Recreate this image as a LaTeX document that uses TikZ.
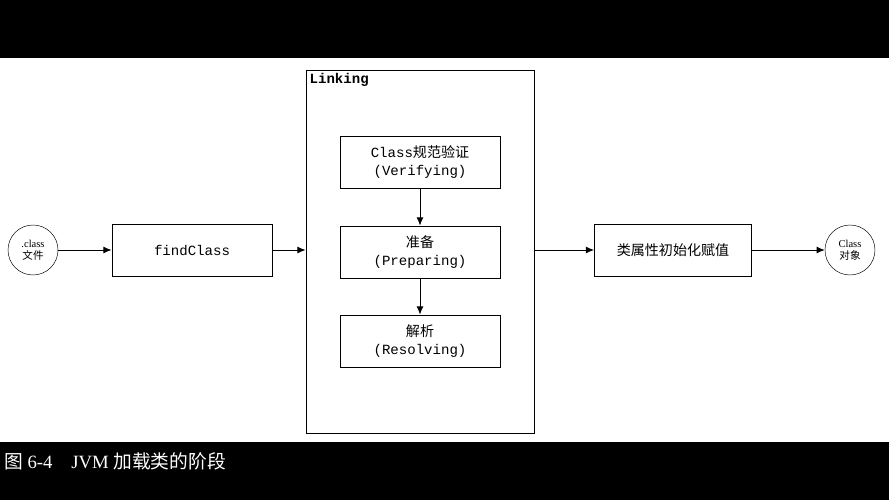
\documentclass[tikz,border=0pt]{standalone}
\usepackage{fontspec}
\setmainfont{Liberation Serif}
\setmonofont{Liberation Mono}
\newfontfamily\cjk{Noto Sans CJK SC}
\usetikzlibrary{arrows.meta,positioning}

\begin{document}
\begin{tikzpicture}[x=0.03cm,y=-0.03cm,
    box/.style={draw,thick,minimum width=160*0.03cm,minimum height=52*0.03cm,
        align=center,font=\ttfamily\fontsize{12}{16}\selectfont},
    ends/.style={draw,circle,minimum size=50*0.03cm,inner sep=0pt,align=center,
        font=\fontsize{9}{10}\selectfont},
    arr/.style={thick,-{Latex[length=7pt,width=6pt]}}]
    % frame and black bars
    \useasboundingbox (0,0) rectangle (889,500);
    \fill[black] (0,0) rectangle (889,58);
    \fill[black] (0,442) rectangle (889,500);
    \node[anchor=west,text=white,font=\fontsize{16}{18}\selectfont] (cap) at (0,461)
        {{\cjk 图} 6-4\quad JVM {\cjk 加载类的阶段}};
    % linking frame
    \node[draw,thick,minimum width=228*0.03cm,minimum height=363*0.03cm] (link) at (420,251.5) {};
    \node[anchor=north west,font=\ttfamily\bfseries\fontsize{12}{14}\selectfont] (linklbl)
        at (link.north west) {Linking};
    % nodes
    \node[ends] (file) at (33,250) {.class\\{\cjk 文件}};
    \node[box] (find) at (192,250) {findClass};
    \node[box] (verify) at (420,162) {Class{\cjk 规范验证}\\(Verifying)};
    \node[box] (prep) at (420,252) {{\cjk 准备}\\(Preparing)};
    \node[box] (resolve) at (420,341) {{\cjk 解析}\\(Resolving)};
    \node[box,font=\cjk\fontsize{12}{16}\selectfont,minimum width=157*0.03cm] (init) at (673,250) {类属性初始化赋值};
    \node[ends] (obj) at (850,250) {Class\\{\cjk 对象}};
    % connectors
    \draw[arr] (file) -- (find);
    \draw[arr] (find.east) -- (find.east -| link.west);
    \draw[arr] (verify) -- (prep);
    \draw[arr] (prep) -- (resolve);
    \draw[arr] (init.west -| link.east) -- (init.west);
    \draw[arr] (init) -- (obj);
\end{tikzpicture}
\end{document}
